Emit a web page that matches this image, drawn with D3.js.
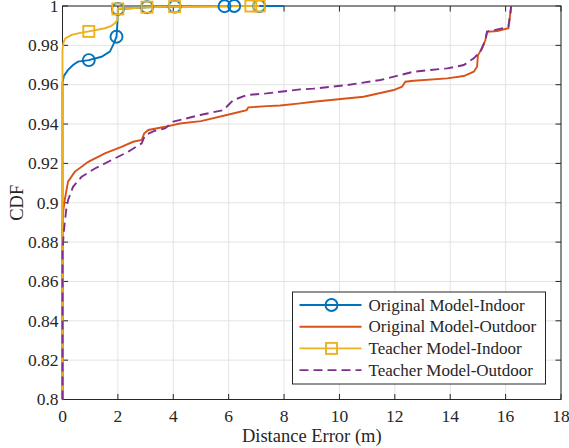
<!DOCTYPE html>
<html>
<head>
<meta charset="utf-8">
<script src="https://cdn.jsdelivr.net/npm/d3@7"></script>
<style>
body { margin:0; background:#fff; }
</style>
</head>
<body>
<svg id="svg" width="569" height="448" font-family="'Liberation Serif', 'DejaVu Serif', serif"></svg>
<script>
var svg = d3.select("#svg");

// series
var origInX  = [0, 0, 0.05, 0.2, 0.38, 0.56, 0.95, 1.41, 1.71, 1.83, 1.95, 1.99, 2.0, 3.05, 4.05, 5.85, 6.2, 7.1, 8.0];
var origInY  = [0.8, 0.9610, 0.9645, 0.9675, 0.9700, 0.9717, 0.9725, 0.9742, 0.9768, 0.9802, 0.9844, 0.9930, 0.9985, 0.9994, 0.9997, 0.9999, 1, 1, 1];
var origInMk = [6, 10, 12, 13, 14, 15, 16, 17];

var origOutX = [0, 0, 0.03, 0.08, 0.2, 0.44, 0.93, 1.53, 2.13, 2.55, 2.86, 2.95, 3.1, 3.7, 4.24, 5.0, 5.93, 6.65, 6.71, 7.38, 7.86, 8.58, 9.06, 10.87, 11.96, 12.26, 12.38, 12.68, 13.89, 14.49, 14.85, 14.97, 15.0, 15.15, 15.27, 15.33, 15.7, 16.1, 16.17, 16.2];
var origOutY = [0.8, 0.889, 0.896, 0.9013, 0.9107, 0.9157, 0.9208, 0.9251, 0.9284, 0.931, 0.9319, 0.9353, 0.937, 0.9386, 0.9403, 0.9415, 0.9446, 0.9471, 0.9485, 0.9491, 0.9494, 0.9505, 0.9513, 0.9539, 0.9573, 0.959, 0.9615, 0.962, 0.9632, 0.9644, 0.9666, 0.9691, 0.975, 0.9785, 0.9827, 0.9869, 0.9873, 0.9887, 0.9963, 1];

var teachInX  = [0, 0, 0.03, 0.1, 0.33, 0.6, 0.95, 1.53, 1.75, 1.89, 1.99, 2.0, 3.05, 4.05, 6.8, 7.1];
var teachInY  = [0.8, 0.9776, 0.9812, 0.9835, 0.9853, 0.9862, 0.9871, 0.9887, 0.9898, 0.9912, 0.9929, 0.9985, 0.9994, 0.9997, 1, 1];
var teachInMk = [6, 11, 12, 13, 14, 15];

var teachOutX = [0, 0, 0.04, 0.08, 0.14, 0.2, 0.38, 0.69, 1.17, 1.77, 2.37, 2.86, 2.98, 3.34, 3.7, 4.0, 4.97, 5.81, 5.99, 6.17, 6.65, 7.38, 7.86, 8.58, 9.06, 10.27, 11.48, 12.2, 12.68, 13.89, 14.49, 14.85, 15.09, 15.27, 15.33, 16.0, 16.1, 16.17, 16.2];
var teachOutY = [0.8, 0.875, 0.884, 0.8897, 0.897, 0.9013, 0.9081, 0.9132, 0.9174, 0.9217, 0.9259, 0.9302, 0.9344, 0.9366, 0.9378, 0.9412, 0.9446, 0.9471, 0.9497, 0.9522, 0.9547, 0.9556, 0.9564, 0.9576, 0.958, 0.9598, 0.9624, 0.9649, 0.9666, 0.9683, 0.97, 0.9734, 0.9768, 0.9827, 0.987, 0.989, 0.9895, 0.996, 1];

var xTicks = [0, 2, 4, 6, 8, 10, 12, 14, 16, 18];
var yTicks = [0.8, 0.82, 0.84, 0.86, 0.88, 0.9, 0.92, 0.94, 0.96, 0.98, 1];

var names  = ["Original Model-Indoor", "Original Model-Outdoor", "Teacher Model-Indoor", "Teacher Model-Outdoor"];
var colors = ["#0072BD", "#D95319", "#EDB120", "#7E2F8E"];
var shapes = ["circle", null, "square", null];
var dashes = [null, null, null, "9,5"];

var series = [
    {xs:origInX,  ys:origInY,  mk:origInMk},
    {xs:origOutX, ys:origOutY, mk:[]},
    {xs:teachInX, ys:teachInY, mk:teachInMk},
    {xs:teachOutX,ys:teachOutY,mk:[]}
];

var L = 62.5, R = 561, T = 6, B = 399.5, tk = 5.5,
    axc = "#262626", grid = "#e3e3e3";

var x = d3.scaleLinear().domain([0, 18]).range([L, R]),
    y = d3.scaleLinear().domain([0.8, 1]).range([B, T]);

// grid
svg.append("g").selectAll().data(xTicks).enter().append("line")
    .attr("x1", d=>x(d)).attr("x2", d=>x(d)).attr("y1", T).attr("y2", B)
    .attr("stroke", grid).attr("stroke-width", 1);
svg.append("g").selectAll().data(yTicks).enter().append("line")
    .attr("y1", d=>y(d)).attr("y2", d=>y(d)).attr("x1", L).attr("x2", R)
    .attr("stroke", grid).attr("stroke-width", 1);

// axes box with inward ticks on all sides (curves go on top, as in the original)
var ax = svg.append("g").attr("stroke", axc).attr("stroke-width", 1);
ax.append("rect").attr("x", L).attr("y", T).attr("width", R - L).attr("height", B - T).attr("fill", "none");
ax.selectAll().data(xTicks).enter().append("path")
    .attr("d", d=>"M"+x(d)+","+B+"v"+(-tk)+"M"+x(d)+","+T+"v"+tk);
ax.selectAll().data(yTicks).enter().append("path")
    .attr("d", d=>"M"+L+","+y(d)+"h"+tk+"M"+R+","+y(d)+"h"+(-tk));

// curves
svg.append("defs").append("clipPath").attr("id", "plot-clip")
    .append("rect").attr("x", L - 2).attr("y", T - 4).attr("width", R - L + 2).attr("height", B - T + 4);

var line = d3.line().x(d=>x(d[0])).y(d=>y(d[1]));
var plot = svg.append("g").attr("clip-path", "url(#plot-clip)");

series.forEach(function(s, i) {
    var pts = s.xs.map((v, j) => [v, s.ys[j]]);
    plot.append("path").datum(pts)
        .attr("d", line).attr("fill", "none")
        .attr("stroke", colors[i]).attr("stroke-width", 1.9)
        .attr("stroke-dasharray", dashes[i]);
    var mks = s.mk.map(j => pts[j]);
    drawMarks(svg.append("g"), mks, shapes[i], colors[i]);
});

function drawMarks(g, pts, shape, col) {
    if (shape === "circle")
        g.selectAll().data(pts).enter().append("circle")
            .attr("cx", d=>x(d[0])).attr("cy", d=>y(d[1])).attr("r", 6)
            .attr("fill", "none").attr("stroke", col).attr("stroke-width", 1.9);
    else if (shape === "square")
        g.selectAll().data(pts).enter().append("rect")
            .attr("x", d=>x(d[0]) - 5.5).attr("y", d=>y(d[1]) - 5.5).attr("width", 11).attr("height", 11)
            .attr("fill", "none").attr("stroke", col).attr("stroke-width", 1.9);
}

svg.append("g").attr("fill", axc).selectAll().data(xTicks).enter().append("text")
    .attr("x", d=>x(d)).attr("y", B + 22).attr("text-anchor", "middle")
    .attr("font-size", 17.5).text(d=>d);
svg.append("g").attr("fill", axc).selectAll().data(yTicks).enter().append("text")
    .attr("x", L - 4).attr("y", d=>y(d)).attr("dy", "0.33em").attr("text-anchor", "end")
    .attr("font-size", 17.5).text(d=>d3.format("~g")(d));

svg.append("text").attr("fill", axc).attr("x", (L + R) / 2).attr("y", 442).attr("text-anchor", "middle")
    .attr("font-size", 18.5).text("Distance Error (m)");
svg.append("text").attr("fill", axc).attr("transform", "translate(23," + (T + B) / 2 + ") rotate(-90)")
    .attr("text-anchor", "middle").attr("font-size", 18.5).text("CDF");

// legend
var lg = svg.append("g").attr("transform", "translate(292.5,292)");
lg.append("rect").attr("width", 253).attr("height", 92)
    .attr("fill", "#fff").attr("stroke", axc).attr("stroke-width", 1);
var rows = lg.selectAll().data(names).enter().append("g")
    .attr("transform", (_, i)=>"translate(0," + (13 + i * 21.7) + ")");
rows.append("line").attr("x1", 7).attr("x2", 69).attr("y1", 0).attr("y2", 0)
    .attr("stroke", (_, i)=>colors[i]).attr("stroke-width", 1.9)
    .attr("stroke-dasharray", (_, i)=>dashes[i]);
rows.each(function(_, i) {
    var g = d3.select(this);
    if (shapes[i] === "circle")
        g.append("circle").attr("cx", 39).attr("r", 6).attr("fill", "none")
            .attr("stroke", colors[i]).attr("stroke-width", 1.9);
    if (shapes[i] === "square")
        g.append("rect").attr("x", 33.5).attr("y", -5.5).attr("width", 11).attr("height", 11)
            .attr("fill", "none").attr("stroke", colors[i]).attr("stroke-width", 1.9);
});
rows.append("text").attr("fill", axc).attr("x", 76).attr("dy", "0.33em").attr("font-size", 17)
    .text(d=>d);
</script>
</body>
</html>
